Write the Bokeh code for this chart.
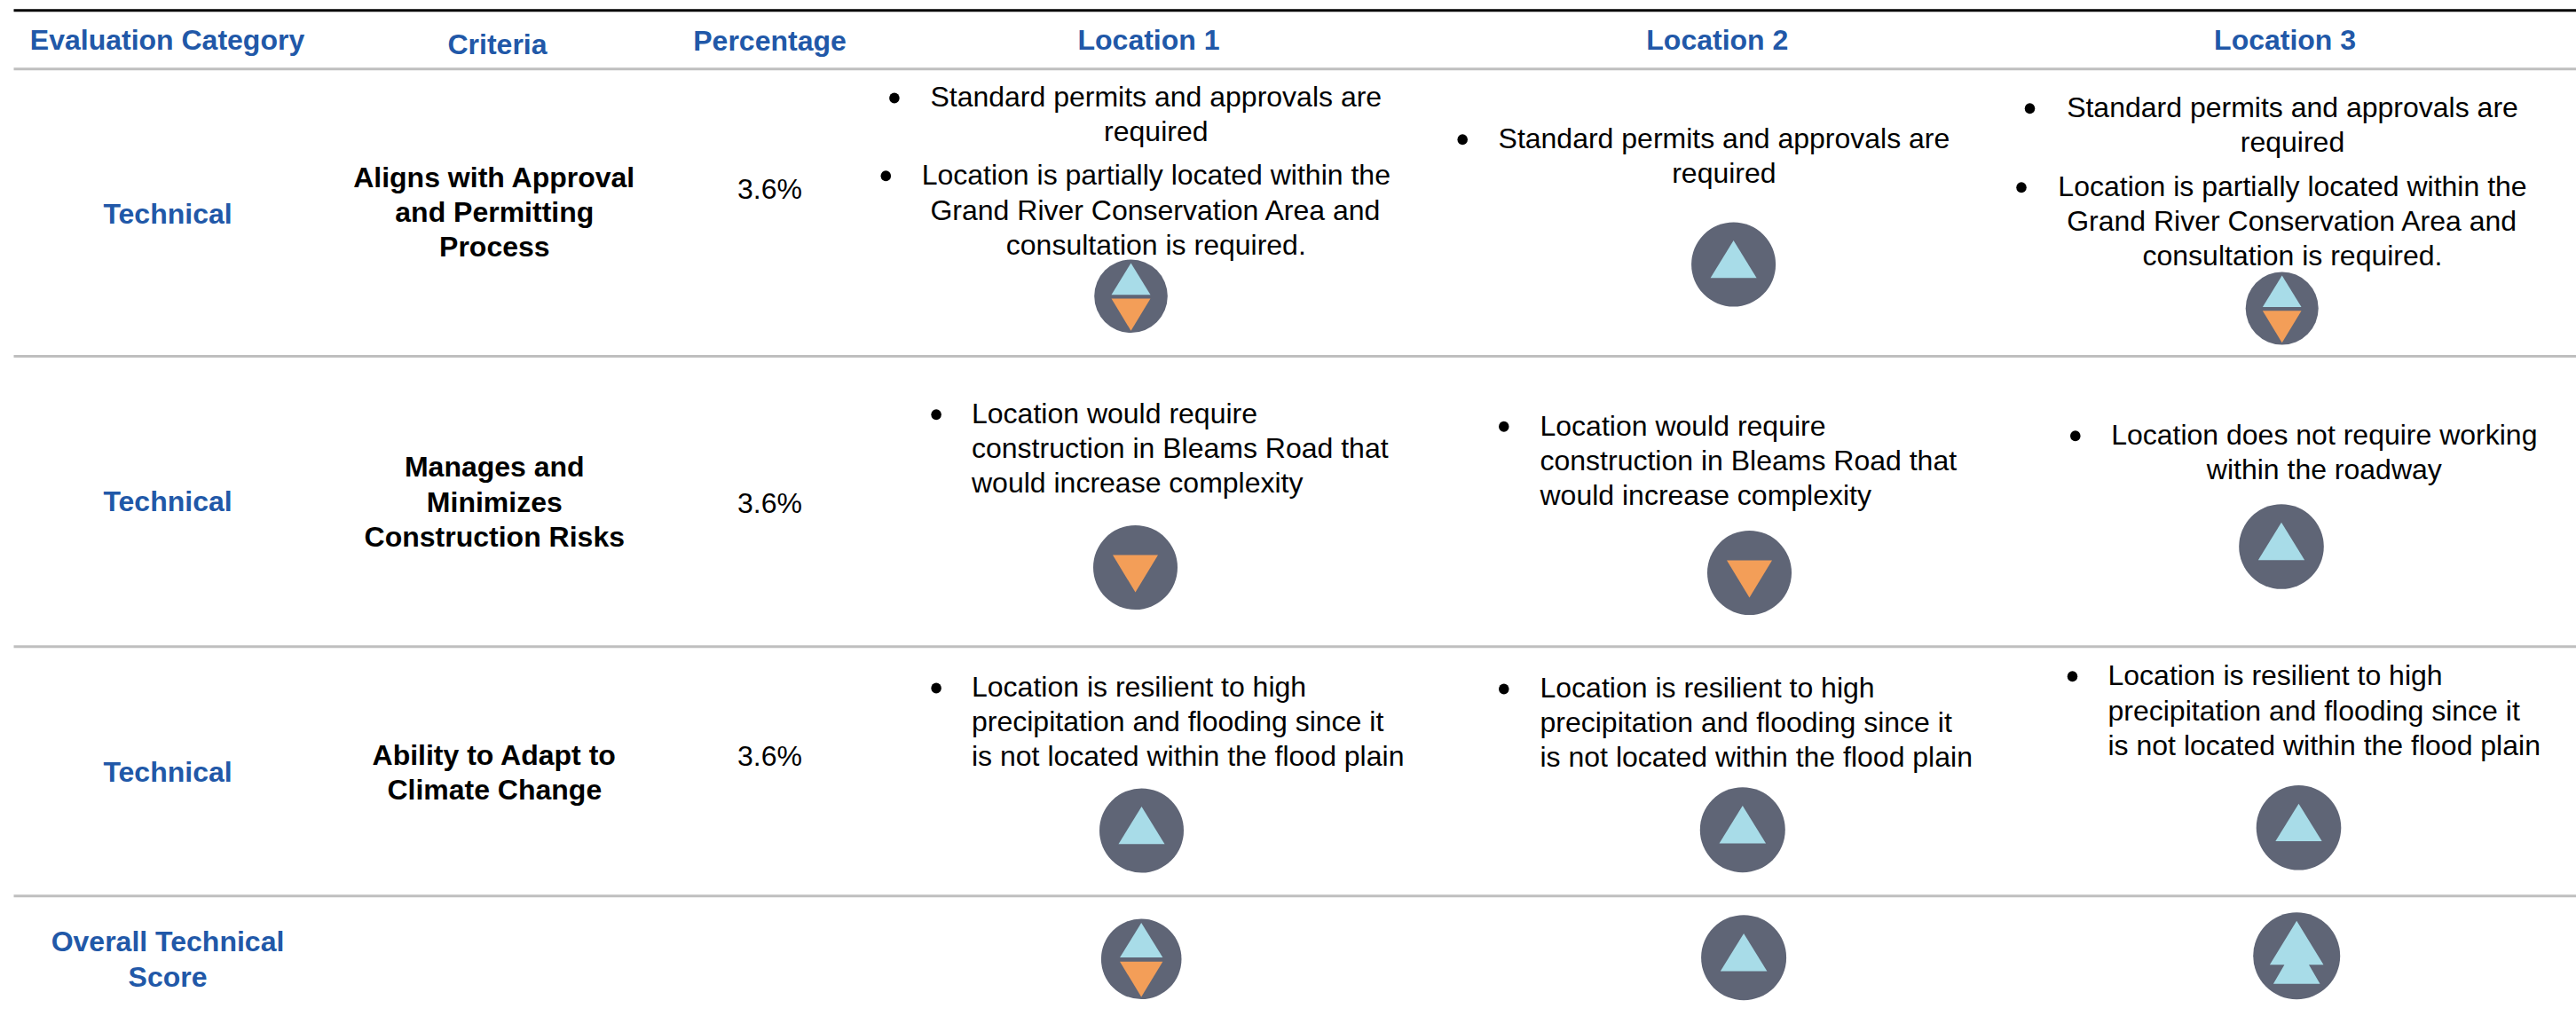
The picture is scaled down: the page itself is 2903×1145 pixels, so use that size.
from bokeh.plotting import figure
from bokeh.models import ColumnDataSource, Range1d
from bokeh.core.properties import value
from bokeh.embed import file_html
from bokeh.resources import INLINE

# ---- content -------------------------------------------------------------
headers = ["Evaluation Category", "Criteria", "Percentage", "Location 1", "Location 2", "Location 3"]
categories = ["Technical", "Technical", "Technical"]
overall_label = ["Overall Technical", "Score"]
criteria = [
    ["Aligns with Approval", "and Permitting", "Process"],
    ["Manages and", "Minimizes", "Construction Risks"],
    ["Ability to Adapt to", "Climate Change"],
]
percentages = ["3.6%", "3.6%", "3.6%"]

permits = ["Standard permits and approvals are", "required"]
conservation = ["Location is partially located within the",
                "Grand River Conservation Area and",
                "consultation is required."]
bleams = ["Location would require", "construction in Bleams Road that", "would increase complexity"]
roadway = ["Location does not require working", "within the roadway"]
resilient = ["Location is resilient to high", "precipitation and flooding since it",
             "is not located within the flood plain"]

# rating per row (three criteria, then the overall score), per location
ratings_location_1 = ["mixed", "down", "up", "mixed"]
ratings_location_2 = ["up", "down", "up", "up"]
ratings_location_3 = ["mixed", "up", "up", "double_up"]

# ---- layout (reference pixels) --------------------------------------------
W, H = 2903, 1145
FONT = value("Liberation Sans")
SIZE = "32px"
BLUE, BLACK = "#2158A8", "#000000"
GREY = "#BFBFBF"
DISC, UP, DOWN = "#5F6576", "#A8DCE8", "#F39E58"
LEFT = 15
LEAD = 39.3
TEXT_DY = -10

p = figure(width=W, height=H, output_backend="svg", toolbar_location=None,
           x_range=Range1d(0, W), y_range=Range1d(H, 0),
           min_border=0, outline_line_color=None, background_fill_color="white",
           border_fill_color="white")
p.axis.visible = False
p.grid.visible = False

# rules
p.segment(x0=[LEFT], x1=[W], y0=[11.3], y1=[11.3], line_color=BLACK, line_width=3)
rules_y = [77.3, 401, 728.3, 1009.3]
p.segment(x0=[LEFT] * 4, x1=[W] * 4, y0=rules_y, y1=rules_y, line_color=GREY, line_width=3)

texts = {"x": [], "y": [], "t": [], "c": [], "a": [], "s": []}


def put(x, y, t, color=BLACK, align="center", style="normal"):
    texts["x"].append(x); texts["y"].append(y + TEXT_DY); texts["t"].append(t)
    texts["c"].append(color); texts["a"].append(align); texts["s"].append(style)


def block(x, y, lines, **kw):
    for i, line in enumerate(lines):
        put(x, y + i * LEAD, line, **kw)


# header row
header_x = [188, 560, 867, 1294, 1934.8, 2574.6]
header_y = [54, 59, 55, 54, 54, 54]
for x, y, t in zip(header_x, header_y, headers):
    put(x, y, t, color=BLUE, style="bold")

# left columns
for y, t in zip([250, 574.7, 879], categories):
    put(188.5, y, t, color=BLUE, style="bold")
block(188.5, 1070.7, overall_label, color=BLUE, style="bold")
for y, lines in zip([209.3, 535.7, 860], criteria):
    block(556.8, y, lines, style="bold")
for y, t in zip([222.7, 576.7, 861.7], percentages):
    put(867, y, t)

# location cells: centred (x = centre) or left aligned (x = left edge)
block(1302.3, 118.3, permits)
block(1302.3, 206.7, conservation)
block(1942.4, 165, permits)
block(2583, 130, permits)
block(2583, 219, conservation)
block(1094.5, 475, bleams, align="left")
block(1735, 489, bleams, align="left")
block(2618.8, 499, roadway)
block(1094.5, 783.3, resilient, align="left")
block(1735, 784.3, resilient, align="left")
block(2375, 770.7, resilient, align="left")

src = ColumnDataSource(texts)
p.text(x="x", y="y", text="t", source=src, text_color="c", text_align="a", text_font=FONT,
       text_font_size=SIZE, text_font_style="s", text_baseline="alphabetic")

# list bullets
bullet_x = [1007.4, 997.8, 1647.7, 2287, 2277.5, 1054.6, 1694.3, 2338.3, 1054.6, 1694.3, 2335]
bullet_y = [110, 197.7, 156.7, 121.7, 210.7, 466.7, 480.3, 490.7, 775, 776, 761.7]
p.ellipse(x=bullet_x, y=bullet_y, width=11.5, height=12, fill_color=BLACK, line_color=None)

# rating icons: centre x, centre y, disc radius
icon_layout = [
    [(1274, 333.3, 41.3), (1279, 639, 47.5), (1286, 935.5, 47.5), (1285.7, 1080.3, 45.3)],
    [(1953.1, 297.5, 47.5), (1971, 645, 47.5), (1963.3, 934.7, 48), (1964.6, 1078.7, 48)],
    [(2571.2, 347, 41), (2570.5, 615.5, 47.8), (2590, 932.3, 47.8), (2587.7, 1076.7, 49)],
]
shapes = {
    "up": [(UP, [(0, -27), (26, 15.2), (-26, 15.2)])],
    "down": [(DOWN, [(0, 28), (25.5, -14), (-25.5, -14)])],
    "mixed": [(UP, [(0, -37.3), (22, -1.6), (-22, -1.6)]),
              (DOWN, [(0, 39), (22, 2.7), (-22, 2.7)])],
    "double_up": [(UP, [(0, -39.4), (30.3, 10), (13.8, 10), (26.3, 31.6),
                        (-26.3, 31.6), (-13.8, 10), (-30.3, 10)])],
}
base_radius = {"up": 47.5, "down": 47.5, "mixed": 41.3, "double_up": 49}

disc_x, disc_y, disc_r = [], [], []
poly_x, poly_y, poly_c = [], [], []
for ratings, column in zip([ratings_location_1, ratings_location_2, ratings_location_3], icon_layout):
    for rating, (cx, cy, r) in zip(ratings, column):
        disc_x.append(cx); disc_y.append(cy); disc_r.append(r)
        k = r / base_radius[rating]
        for color, pts in shapes[rating]:
            poly_x.append([cx + k * dx for dx, _ in pts])
            poly_y.append([cy + k * dy for _, dy in pts])
            poly_c.append(color)

p.circle(x=disc_x, y=disc_y, radius=disc_r, fill_color=DISC, line_color=None)
p.patches(xs=poly_x, ys=poly_y, fill_color=poly_c, line_color=None)

open("out.html", "w").write(file_html(p, INLINE))
